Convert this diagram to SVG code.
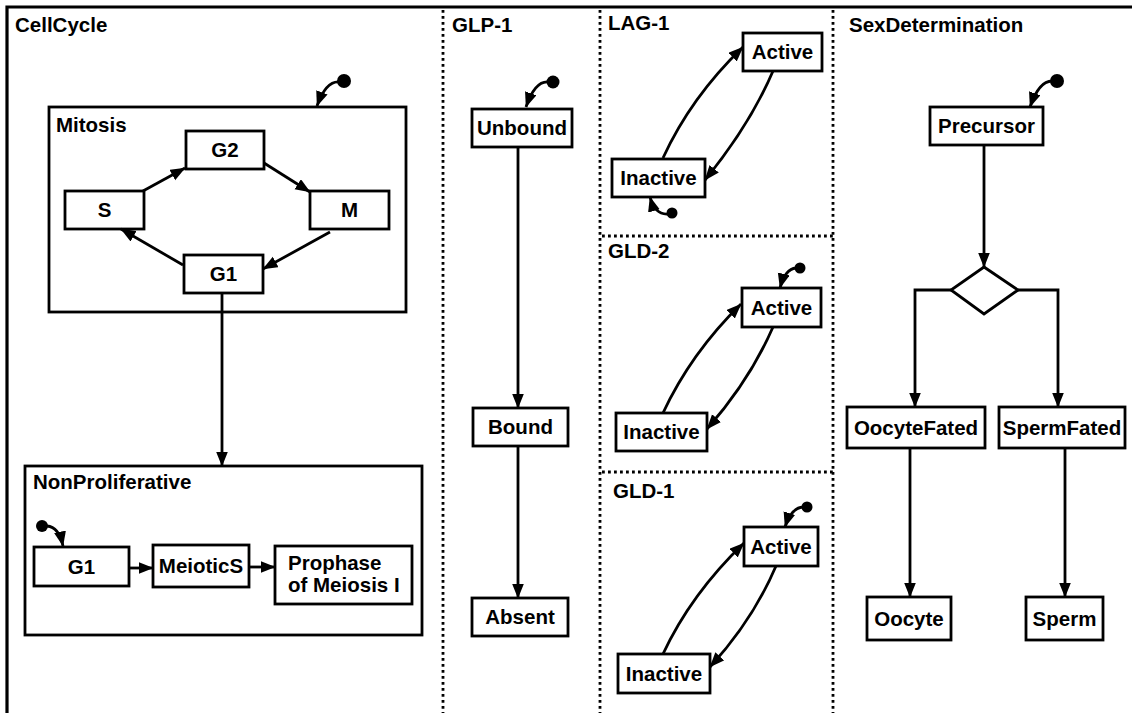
<svg xmlns="http://www.w3.org/2000/svg" width="1132" height="713" viewBox="0 0 1132 713">
  <style>
    .box { fill: #fff; stroke: #000; stroke-width: 2.8; }
    .frame { fill: none; stroke: #000; stroke-width: 2.8; }
    .lbl { font-family: "Liberation Sans", Arial, sans-serif; font-weight: bold; font-size: 20.5px; fill: #000; }
    .mid { text-anchor: middle; }
    .edge { fill: none; stroke: #000; stroke-width: 2.8; marker-end: url(#arrow); }
    .init { fill: none; stroke: #000; stroke-width: 2.8; marker-end: url(#arrow); }
    .dot { fill: #000; }
    .sep { fill: none; stroke: #000; stroke-width: 2.8; stroke-dasharray: 2.8 3.2; }
  </style>
  <defs>
    <marker id="arrow" markerUnits="userSpaceOnUse" markerWidth="16" markerHeight="14" refX="14.5" refY="6" orient="auto">
      <path d="M0,0 L15,6 L0,12 z" fill="#000"/>
    </marker>
  </defs>

  <rect width="1132" height="713" fill="#fff"/>

  <!-- outer frame and region separators -->
  <g id="frame">
    <path d="M7,713 V7 H1132" fill="none" stroke="#000" stroke-width="3.2"/>
    <path class="sep" d="M443,10 V713"/>
    <path class="sep" d="M600,10 V713"/>
    <path class="sep" d="M833,10 V713"/>
    <path class="sep" d="M602,236 H833"/>
    <path class="sep" d="M602,472 H833"/>
  </g>

  <!-- region titles -->
  <g id="titles">
    <text class="lbl" x="15" y="32">CellCycle</text>
    <text class="lbl" x="452" y="32">GLP-1</text>
    <text class="lbl" x="608" y="30">LAG-1</text>
    <text class="lbl" x="608" y="258">GLD-2</text>
    <text class="lbl" x="613" y="498">GLD-1</text>
    <text class="lbl" x="849" y="32">SexDetermination</text>
  </g>

  <!-- CellCycle -->
  <g id="mitosis">
    <rect class="frame" x="49" y="107" width="357" height="205"/>
    <text class="lbl" x="56" y="132">Mitosis</text>
  </g>
  <g id="g2"><rect class="box" x="186" y="131" width="78" height="38"/><text class="lbl mid" x="225" y="157">G2</text></g>
  <g id="s"><rect class="box" x="65" y="191" width="79" height="38"/><text class="lbl mid" x="104.5" y="217">S</text></g>
  <g id="m"><rect class="box" x="310" y="191" width="79" height="38"/><text class="lbl mid" x="349.5" y="217">M</text></g>
  <g id="g1"><rect class="box" x="184" y="255" width="79" height="38"/><text class="lbl mid" x="223.5" y="281">G1</text></g>

  <g id="nonproliferative">
    <rect class="frame" x="25" y="466" width="397" height="169"/>
    <text class="lbl" x="33" y="489">NonProliferative</text>
  </g>
  <g id="np-g1"><rect class="box" x="34" y="547" width="95" height="39"/><text class="lbl mid" x="81.5" y="574">G1</text></g>
  <g id="meiotic-s"><rect class="box" x="153" y="545" width="96" height="42"/><text class="lbl mid" x="201" y="573">MeioticS</text></g>
  <g id="prophase">
    <rect class="box" x="275" y="546" width="137" height="58"/>
    <text class="lbl" x="288" y="570">Prophase</text>
    <text class="lbl" x="288" y="592">of Meiosis I</text>
  </g>

  <!-- GLP-1 -->
  <g id="unbound"><rect class="box" x="472" y="109" width="100" height="38"/><text class="lbl mid" x="522" y="135">Unbound</text></g>
  <g id="bound"><rect class="box" x="473" y="408" width="95" height="38"/><text class="lbl mid" x="520.5" y="434">Bound</text></g>
  <g id="absent"><rect class="box" x="472" y="598" width="96" height="38"/><text class="lbl mid" x="520" y="624">Absent</text></g>

  <!-- LAG-1 -->
  <g id="lag1-active"><rect class="box" x="743" y="33" width="79" height="38"/><text class="lbl mid" x="782.5" y="59">Active</text></g>
  <g id="lag1-inactive"><rect class="box" x="612" y="159" width="93" height="38"/><text class="lbl mid" x="658.5" y="185">Inactive</text></g>

  <!-- GLD-2 -->
  <g id="gld2-active"><rect class="box" x="742" y="288" width="79" height="39"/><text class="lbl mid" x="781.5" y="315">Active</text></g>
  <g id="gld2-inactive"><rect class="box" x="616" y="413" width="91" height="38"/><text class="lbl mid" x="661.5" y="439">Inactive</text></g>

  <!-- GLD-1 -->
  <g id="gld1-active"><rect class="box" x="744" y="527" width="74" height="39"/><text class="lbl mid" x="781" y="554">Active</text></g>
  <g id="gld1-inactive"><rect class="box" x="618" y="654" width="92" height="39"/><text class="lbl mid" x="664" y="681">Inactive</text></g>

  <!-- SexDetermination -->
  <g id="precursor"><rect class="box" x="930" y="107" width="113" height="38"/><text class="lbl mid" x="986.5" y="133">Precursor</text></g>
  <g id="choice"><path class="box" d="M984,267 L1018,290 L984,314 L951,290 z"/></g>
  <g id="oocyte-fated"><rect class="box" x="847" y="407" width="138" height="41"/><text class="lbl mid" x="916" y="435">OocyteFated</text></g>
  <g id="sperm-fated"><rect class="box" x="999" y="407" width="126" height="41"/><text class="lbl mid" x="1062" y="435">SpermFated</text></g>
  <g id="oocyte"><rect class="box" x="867" y="597" width="84" height="43"/><text class="lbl mid" x="909" y="626">Oocyte</text></g>
  <g id="sperm"><rect class="box" x="1026" y="597" width="77" height="43"/><text class="lbl mid" x="1064.5" y="626">Sperm</text></g>

  <!-- initial-state markers -->
  <g id="initial-dots">
    <circle class="dot" cx="344" cy="81" r="7"/>
    <circle class="dot" cx="42" cy="526" r="6"/>
    <circle class="dot" cx="553" cy="82" r="6.5"/>
    <circle class="dot" cx="672" cy="213" r="5.5"/>
    <circle class="dot" cx="800" cy="268" r="5.5"/>
    <circle class="dot" cx="807" cy="507" r="5.5"/>
    <circle class="dot" cx="1057" cy="81" r="7"/>
  </g>

  <!-- connectors -->
  <g id="connectors">
    <path class="init" d="M339,82 Q326,81 317,106"/>
    <path class="init" d="M47,526 Q59,527 63,546"/>
    <path class="init" d="M548,82 Q535,81 526,107"/>
    <path class="init" d="M668,214 Q655,215 650,197"/>
    <path class="init" d="M796,268 Q785,269 780,288"/>
    <path class="init" d="M803,507 Q791,508 785,527"/>
    <path class="init" d="M1052,81 Q1039,81 1030,107"/>

    <path class="edge" d="M143,191 L185,168"/>
    <path class="edge" d="M264,163 L310,192"/>
    <path class="edge" d="M330,232 L263,269"/>
    <path class="edge" d="M183,265 L121,229"/>
    <path class="edge" d="M222,293 V466"/>

    <path class="edge" d="M129,568 H153"/>
    <path class="edge" d="M249,567 H275"/>

    <path class="edge" d="M518,147 V408"/>
    <path class="edge" d="M518,446 V598"/>

    <path class="edge" d="M663,158 Q691,97 743,47"/>
    <path class="edge" d="M773,71 Q750,125 705,180"/>
    <path class="edge" d="M663,413 Q691,353 741,304"/>
    <path class="edge" d="M773,327 Q750,380 707,429"/>
    <path class="edge" d="M663,654 Q691,594 744,543"/>
    <path class="edge" d="M776,566 Q753,620 710,667"/>

    <path class="edge" d="M984,145 V267"/>
    <path class="edge" d="M951,290 H915 V407"/>
    <path class="edge" d="M1018,290 H1058 V407"/>
    <path class="edge" d="M910,448 V597"/>
    <path class="edge" d="M1065,448 V597"/>
  </g>
</svg>
